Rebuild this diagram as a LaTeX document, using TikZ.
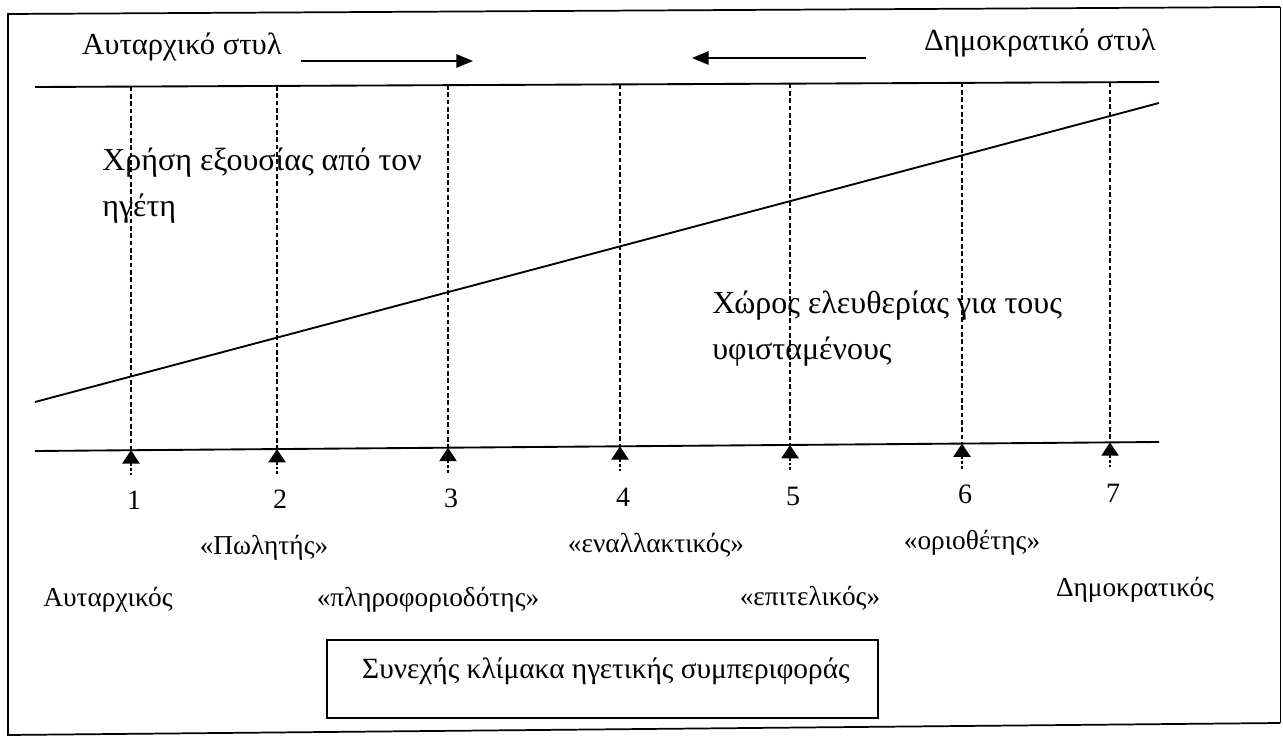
\documentclass[tikz,border=0pt]{standalone}
\usepackage{fontspec}
\setmainfont{Liberation Serif}
\usetikzlibrary{arrows.meta}
\tikzset{
  frameline/.style={line width=1.3pt,line join=miter},
  thinframe/.style={line width=0.7pt},
  mainline/.style={line width=1.4pt},
  guide/.style={line width=0.9pt,dash pattern=on 3.5pt off 2pt},
  uparrow/.style={line width=0.9pt,dash pattern=on 2pt off 1.5pt,-{Triangle[length=10pt,width=13pt]}},
  toparrow/.style={line width=1.4pt,-{Triangle[length=12.5pt,width=10pt]}},
  toptxt/.style={inner sep=0pt,font=\fontsize{23}{28}\selectfont},
  areatxt/.style={inner sep=0pt,font=\fontsize{24}{34}\selectfont},
  boxtxt/.style={inner sep=0pt,font=\fontsize{22}{28}\selectfont},
  midtxt/.style={inner sep=0pt,font=\fontsize{20.5}{24}\selectfont},
  numtxt/.style={inner sep=0pt,font=\fontsize{21}{24}\selectfont},
}
\begin{document}
\begin{tikzpicture}[x=0.75pt,y=-0.75pt]
\useasboundingbox (0,0) rectangle (1283,738);
% frame
\coordinate (f1) at (8,14);
\coordinate (f2) at (1280,7);
\coordinate (f3) at (1280,723);
\coordinate (f4) at (8,735);
\draw[frameline] (f2) -- (f1) -- (f4) -- (f3);
\draw[thinframe] (f2) -- (f3);
% upper and lower horizontal lines
\coordinate (uL) at (35,87);
\coordinate (uR) at (1159,82);
\coordinate (bL) at (35,451);
\coordinate (bR) at (1159,442);
\draw[mainline] (uL) -- (uR);
\draw[mainline] (bL) -- (bR);
% diagonal
\coordinate (dL) at (35,402);
\coordinate (dR) at (1159,103);
\draw[mainline] (dL) -- (dR);
% dashed guides, arrows and numbers
\foreach \i/\x/\uy/\by/\ny in {1/131/86.6/450.2/500,2/277/85.9/449.1/499,3/448/85.1/447.7/498,4/620/84.4/446.3/497,5/790/83.6/445/496,6/962/82.8/443.6/494,7/1110/82.2/442.4/493}{
  \coordinate (u\i) at (\x,\uy);
  \coordinate (b\i) at (\x,\by);
  \coordinate (t\i) at (\x,\by+25);
  \draw[guide] (u\i) -- (b\i);
  \draw[uparrow] (t\i) -- (b\i);
  \node[numtxt] (n\i) at (\x+3,\ny) {\i};
}
% top labels and arrows
\node[toptxt] (aut) at (182,47) {Αυταρχικό στυλ};
\node[toptxt] (dem) at (1040,43) {Δημοκρατικό στυλ};
\coordinate (ra1) at (301,61);
\coordinate (ra2) at (473,61);
\coordinate (la1) at (866,58);
\coordinate (la2) at (692,58);
\draw[toparrow] (ra1) -- (ra2);
\draw[toparrow] (la1) -- (la2);
% area labels
\node[areatxt,anchor=north west,align=left] (power) at (102,148) {Χρήση εξουσίας από τον\\ηγέτη};
\node[areatxt,anchor=north west,align=left] (free) at (712,291) {Χώρος ελευθερίας για τους\\υφισταμένους};
% style labels
\node[midtxt] (l2) at (264,548) {«Πωλητής»};
\node[midtxt] (l4) at (656,545) {«εναλλακτικός»};
\node[midtxt] (l6) at (972,543) {«οριοθέτης»};
\node[midtxt] (l1) at (108,600) {Αυταρχικός};
\node[midtxt] (l3) at (428,600) {«πληροφοριοδότης»};
\node[midtxt] (l5) at (810,598) {«επιτελικός»};
\node[midtxt] (l7) at (1135,590) {Δημοκρατικός};
% bottom box
\draw[mainline] (327,640) rectangle (878,718);
\node[boxtxt] (scale) at (606,671) {Συνεχής κλίμακα ηγετικής συμπεριφοράς};
\end{tikzpicture}
\end{document}
